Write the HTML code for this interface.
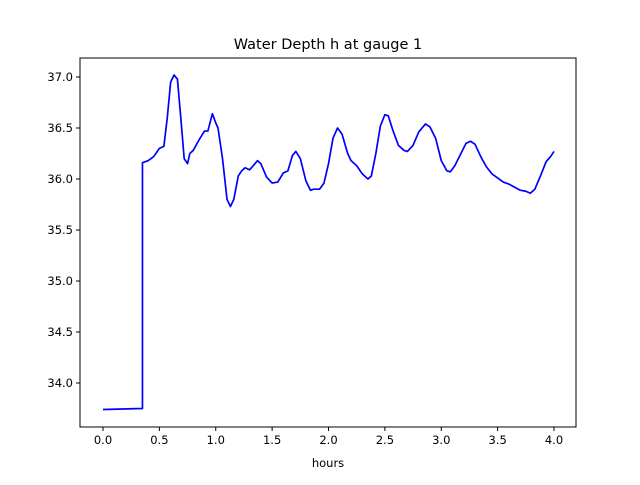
<!DOCTYPE html>
<html><head><meta charset="utf-8"><style>
body{margin:0;background:#fff;font-family:"Liberation Sans","DejaVu Sans",sans-serif}
</style></head><body>
<svg id="chart" width="640" height="480" xmlns="http://www.w3.org/2000/svg" font-family="DejaVu Sans, Liberation Sans, sans-serif"></svg>
<script>
const hours=[0.0,0.35,0.35,0.4,0.45,0.5,0.54,0.57,0.6,0.63,0.66,0.69,0.72,0.75,0.77,0.8,0.85,0.9,0.93,0.97,1.0,1.02,1.06,1.1,1.13,1.16,1.2,1.23,1.26,1.3,1.34,1.37,1.4,1.45,1.5,1.55,1.6,1.64,1.68,1.71,1.75,1.8,1.84,1.87,1.92,1.96,2.0,2.04,2.08,2.12,2.17,2.2,2.25,2.3,2.35,2.38,2.42,2.46,2.5,2.53,2.57,2.62,2.67,2.7,2.75,2.8,2.86,2.9,2.95,3.0,3.05,3.08,3.12,3.17,3.22,3.26,3.3,3.35,3.4,3.45,3.5,3.55,3.6,3.65,3.7,3.75,3.79,3.83,3.88,3.93,3.97,4.0];
const depth=[33.74,33.75,36.16,36.18,36.22,36.30,36.32,36.6,36.95,37.02,36.98,36.6,36.2,36.15,36.25,36.28,36.38,36.47,36.47,36.64,36.55,36.5,36.2,35.8,35.73,35.8,36.03,36.08,36.11,36.09,36.14,36.18,36.15,36.02,35.96,35.97,36.06,36.08,36.23,36.27,36.2,35.98,35.89,35.9,35.9,35.96,36.15,36.4,36.5,36.44,36.25,36.18,36.13,36.05,36.0,36.03,36.25,36.52,36.63,36.62,36.48,36.33,36.28,36.27,36.33,36.46,36.54,36.51,36.4,36.18,36.08,36.07,36.13,36.24,36.35,36.37,36.34,36.22,36.12,36.05,36.01,35.97,35.95,35.92,35.89,35.88,35.86,35.9,36.03,36.17,36.22,36.27];
const xTicks=[0.0,0.5,1.0,1.5,2.0,2.5,3.0,3.5,4.0];
const yTicks=[34.0,34.5,35.0,35.5,36.0,36.5,37.0];
const L=80,R=576,T=58,B=427;
const sx=v=>103+(v-0)*(554-103)/4;
const sy=v=>383-(v-34)*(383-77)/3;
const svg=document.getElementById('chart');
const NS='http://www.w3.org/2000/svg';
function mk(t,a,p){const e=document.createElementNS(NS,t);for(const k in a)e.setAttribute(k,a[k]);(p||svg).appendChild(e);return e;}
const title=mk('text',{x:328,y:49,'text-anchor':'middle','font-size':14.5,fill:'#000'});title.textContent='Water Depth h at gauge 1';


const d=hours.map((h,i)=>(i?'L':'M')+sx(h).toFixed(2)+','+sy(depth[i]).toFixed(2)).join('');
const line=mk('path',{d:d,fill:'none',stroke:'#0000ff','stroke-width':1.7,'stroke-linejoin':'round'});


const frame=mk('rect',{x:L,y:T,width:R-L,height:B-T,fill:'none',stroke:'#000','stroke-width':1});


xTicks.forEach(v=>{const x=sx(v);mk('line',{x1:x,x2:x,y1:B,y2:B+4,stroke:'#000'});
const t=mk('text',{x:x,y:B+17,'text-anchor':'middle','font-size':11.5});t.textContent=v.toFixed(1);

});
yTicks.forEach(v=>{const y=sy(v);mk('line',{x1:L-4,x2:L,y1:y,y2:y,stroke:'#000'});
const t=mk('text',{x:L-7,y:y+4,'text-anchor':'end','font-size':11.5});t.textContent=v.toFixed(1);

});
const xl=mk('text',{x:328,y:467,'text-anchor':'middle','font-size':11.5});xl.textContent='hours';


</script>
</body></html>
